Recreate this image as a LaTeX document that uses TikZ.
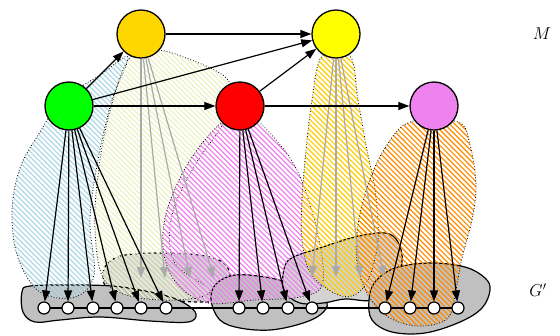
\documentclass[tikz,border=0pt]{standalone}
\usetikzlibrary{arrows.meta}
\definecolor{mgold}{RGB}{255,215,0}
\definecolor{myellow}{RGB}{255,255,0}
\definecolor{mgreen}{RGB}{0,255,0}
\definecolor{mred}{RGB}{255,0,0}
\definecolor{mviolet}{RGB}{238,130,238}
\definecolor{hblue}{RGB}{173,216,230}
\definecolor{hpale}{RGB}{236,242,196}
\definecolor{horange}{RGB}{255,140,0}
\definecolor{hgold}{RGB}{255,204,0}
\definecolor{blobdark}{RGB}{192,192,192}
\definecolor{bloblight}{RGB}{211,211,211}
\definecolor{arrgray}{RGB}{170,170,170}
\tikzset{
  mnode/.style={circle,draw,line width=1.3bp,minimum size=48bp,inner sep=0pt},
  gnode/.style={circle,draw,fill=white,line width=1.2bp,minimum size=12bp,inner sep=0pt},
  arr/.style={line width=1.2bp,-{Triangle[length=11bp,width=8bp]}},
  garr/.style={arr,draw=arrgray,fill=arrgray},
  blob/.style={draw,line width=1.2bp},
  hull/.style={dotted,line width=0.8bp},
  lbl/.style={font=\fontsize{18bp}{21bp}\selectfont}
}
\newcommand{\hullhatch}[2]{%
  \begin{scope}
    \clip plot[smooth cycle,tension=0.6] coordinates {#2};
    \foreach \k in {-340,-334.8,...,560}{\draw[draw=#1,line width=1.2bp] (\k,0) -- ++(340,340);}
  \end{scope}
  \draw[hull] plot[smooth cycle,tension=0.6] coordinates {#2};}
\begin{document}
\begin{tikzpicture}[x=1bp,y=-1bp]
\useasboundingbox (0,0) rectangle (560,335);
% blobs
\draw[blob,dashed,fill=bloblight] plot[smooth cycle,tension=0.6] coordinates {(103,275) (108,263) (125,255) (165,253) (205,256) (225,264) (231,280) (230,298) (200,302) (150,298) (110,290)};
\draw[blob,fill=blobdark] plot[smooth cycle,tension=0.6] coordinates {(22,292) (30,286) (70,285) (112,286) (145,291) (170,297) (186,304) (196,314) (188,322) (150,321) (100,317) (60,320) (35,322) (23,312)};
\draw[blob,fill=blobdark] plot[smooth cycle,tension=0.6] coordinates {(211,300) (216,284) (235,275) (265,277) (285,282) (310,292) (327,303) (320,315) (300,324) (270,330) (240,328) (220,320)};
\draw[blob,fill=bloblight] plot[smooth cycle,tension=0.6] coordinates {(283,275) (290,259) (320,248) (355,237) (385,233) (398,242) (402,262) (392,285) (372,300) (345,299) (323,303) (300,303) (285,292)};
\draw[blob,fill=blobdark] plot[smooth cycle,tension=0.6] coordinates {(369,300) (375,282) (395,268) (430,263) (465,267) (485,278) (490,290) (482,308) (460,322) (425,333) (392,332) (372,320)};
% hatched hulls
\hullhatch{hblue}{(128,57) (112,100) (98,160) (90,220) (94,275) (75,297) (40,292) (18,258) (12,212) (20,168) (40,132) (62,100) (100,75)}
\hullhatch{hpale}{(130,57) (150,50) (178,55) (228,80) (226,118) (195,165) (172,215) (174,262) (210,292) (160,300) (108,285) (95,230) (100,160) (113,100)}
\hullhatch{mviolet}{(222,122) (200,146) (180,178) (165,218) (164,255) (178,285) (208,303) (255,300) (300,297) (322,285) (320,245) (307,195) (290,158) (260,123) (240,112)}
\hullhatch{hgold}{(322,56) (312,100) (306,150) (302,200) (302,240) (310,272) (332,292) (352,296) (368,280) (378,240) (375,190) (367,150) (358,100) (350,56)}
\hullhatch{horange}{(410,122) (385,148) (368,185) (358,225) (357,262) (368,295) (390,318) (420,326) (448,318) (456,290) (462,258) (472,220) (476,185) (470,145) (458,122)}
% M nodes
\node[mnode,fill=mgold] (n1) at (141,34) {};
\node[mnode,fill=myellow] (n2) at (336,34) {};
\node[mnode,fill=mgreen] (n3) at (69,106) {};
\node[mnode,fill=mred] (n4) at (240,106) {};
\node[mnode,fill=mviolet] (n5) at (434,106) {};
% bottom nodes
\foreach \i/\x in {1/44,2/68,3/93,4/117,5/141,6/166,7/239,8/263,9/288,10/312,11/385,12/410,13/434,14/458}
  \coordinate (c\i) at (\x,308);
\draw[line width=1.2bp] (c1) -- (c14);
\foreach \i in {1,...,14} \node[gnode] (b\i) at (c\i) {};
% gray targets
\coordinate (g1) at (141,278); \coordinate (g2) at (165,278);
\coordinate (g3) at (190,278); \coordinate (g4) at (214,278);
\coordinate (y1) at (312,277); \coordinate (y2) at (336,277);
\coordinate (y3) at (360,277); \coordinate (y4) at (384,277);
\foreach \t in {g1,g2,g3,g4} \draw[garr] (n1) -- (\t);
\foreach \t in {y1,y2,y3,y4} \draw[garr] (n2) -- (\t);
% black arrows
\foreach \t in {b1,b2,b3,b4,b5,b6} \draw[arr] (n3) -- (\t);
\foreach \t in {b7,b8,b9,b10} \draw[arr] (n4) -- (\t);
\foreach \t in {b11,b12,b13,b14} \draw[arr] (n5) -- (\t);
\draw[arr] (n1) -- (n2);
\draw[arr] (n3) -- (n1);
\draw[arr] (n3) -- (n2);
\draw[arr] (n3) -- (n4);
\draw[arr] (n4) -- (n2);
\draw[arr] (n4) -- (n5);
% labels
\node[lbl] (lm) at (542,34) {$M$};
\node[lbl] (lg) at (538,290) {$G'$};
\end{tikzpicture}
\end{document}
